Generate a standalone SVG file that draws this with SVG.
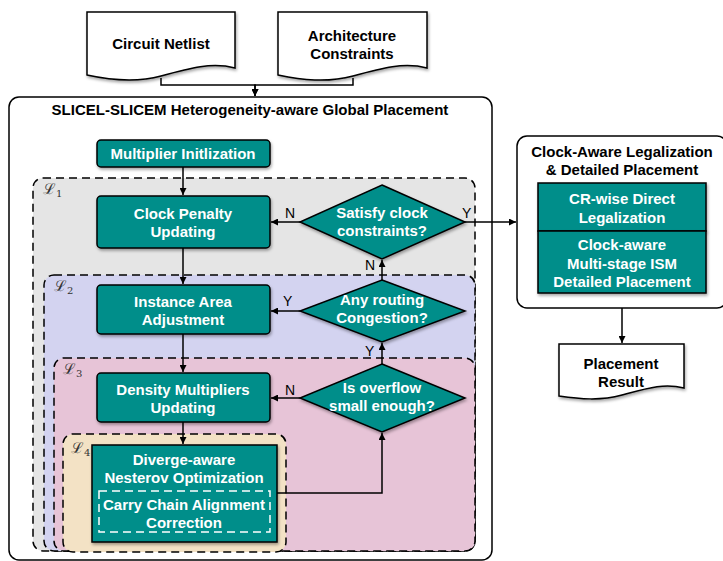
<svg xmlns="http://www.w3.org/2000/svg" width="723" height="561" viewBox="0 0 723 561">
<defs>
<marker id="arr" viewBox="0 0 10 10" refX="10" refY="5" markerWidth="7" markerHeight="7" markerUnits="userSpaceOnUse" orient="auto"><path d="M0,0 L10,5 L0,10 Z" fill="#000"/></marker>
<filter id="sh" x="-10%" y="-10%" width="130%" height="140%"><feDropShadow dx="1" dy="2" stdDeviation="1.5" flood-color="#000" flood-opacity="0.35"/></filter>
<style>
.doc{fill:#fff;stroke:#000;stroke-width:1.5}
.t{font-family:"Liberation Sans",Arial,sans-serif;font-weight:bold;font-size:15px;text-anchor:middle}
.w{fill:#fff}
.k{fill:#000}
.node{fill:#008E8A;stroke:#000;stroke-width:1.5;filter:url(#sh)}
.reg{stroke:#000;stroke-width:1.5;stroke-dasharray:8,5}
.lbl{font-family:"Liberation Sans",Arial,sans-serif;font-size:14px;fill:#000}
.L{font-family:"DejaVu Serif",serif;font-size:15px;fill:#333}
.c{fill:none;stroke:#000;stroke-width:1.5;marker-end:url(#arr)}
</style>
</defs>
<rect width="723" height="561" fill="#fff"/>

<g id="circuit-netlist">
<path class="doc" filter="url(#sh)" d="M87,12 H235 V68 C212,62 190,68 161,76 C135,83 110,80 87,75 Z"/>
<text class="t k" x="161" y="49">Circuit Netlist</text>
</g>
<g id="architecture-constraints">
<path class="doc" filter="url(#sh)" d="M278,12 H427 V68 C404,62 382,68 353,76 C327,83 302,80 278,75 Z"/>
<text class="t k" x="352" y="41">Architecture</text>
<text class="t k" x="352" y="59">Constraints</text>
</g>

<g id="global-placement">
<rect x="9" y="97" width="483" height="463" rx="10" fill="#fff" stroke="#000" stroke-width="1.5"/>
<text class="t k" x="250" y="115">SLICEL-SLICEM Heterogeneity-aware Global Placement</text>
</g>

<g id="loop-L1">
<rect class="reg" x="33" y="178" width="442" height="373" rx="10" fill="#E5E5E5"/>
<text class="L" x="43" y="194">ℒ<tspan font-size="10" dy="3">1</tspan></text>
</g>
<g id="loop-L2">
<rect class="reg" x="44" y="275" width="431" height="276" rx="10" fill="#D3D3F0"/>
<text class="L" x="54" y="291">ℒ<tspan font-size="10" dy="3">2</tspan></text>
</g>
<g id="loop-L3">
<rect class="reg" x="54" y="358" width="421" height="193" rx="10" fill="#E7C4D7"/>
<text class="L" x="63" y="374">ℒ<tspan font-size="10" dy="3">3</tspan></text>
</g>
<g id="loop-L4">
<rect class="reg" x="63" y="434" width="223" height="118" rx="10" fill="#F3E2C5"/>
<text class="L" x="71" y="453">ℒ<tspan font-size="10" dy="3">4</tspan></text>
</g>

<g id="multiplier-init">
<rect class="node" x="97" y="140" width="173" height="27" rx="4"/>
<text class="t w" x="183" y="159">Multiplier Initlization</text>
</g>
<g id="clock-penalty">
<rect class="node" x="97" y="196" width="173" height="52" rx="4"/>
<text class="t w" x="183" y="219">Clock Penalty</text>
<text class="t w" x="183" y="237">Updating</text>
</g>
<g id="instance-area">
<rect class="node" x="97" y="285" width="173" height="49" rx="4"/>
<text class="t w" x="183" y="307">Instance Area</text>
<text class="t w" x="183" y="325">Adjustment</text>
</g>
<g id="density-multipliers">
<rect class="node" x="97" y="373" width="173" height="49" rx="4"/>
<text class="t w" x="183" y="395">Density Multipliers</text>
<text class="t w" x="183" y="413">Updating</text>
</g>
<g id="nesterov">
<rect class="node" x="92" y="445" width="185" height="97"/>
<text class="t w" x="184" y="465">Diverge-aware</text>
<text class="t w" x="184" y="483">Nesterov Optimization</text>
<rect x="99" y="491" width="171" height="41" fill="none" stroke="#fff" stroke-width="1.5" stroke-dasharray="8,5"/>
<text class="t w" x="184" y="510">Carry Chain Alignment</text>
<text class="t w" x="184" y="528">Correction</text>
</g>

<g id="satisfy-clock">
<polygon class="node" points="382,185 465,222 382,259 300,222"/>
<text class="t w" x="382" y="218">Satisfy clock</text>
<text class="t w" x="382" y="236">constraints?</text>
</g>
<g id="routing-congestion">
<polygon class="node" points="382,280 465,311 382,342 300,311"/>
<text class="t w" x="382" y="305">Any routing</text>
<text class="t w" x="382" y="323">Congestion?</text>
</g>
<g id="overflow">
<polygon class="node" points="382,364 465,398 382,432 300,398"/>
<text class="t w" x="382" y="393">Is overflow</text>
<text class="t w" x="382" y="411">small enough?</text>
</g>

<g id="legalization">
<rect x="517" y="136" width="210" height="172" rx="10" fill="#fff" stroke="#000" stroke-width="1.5"/>
<text class="t k" x="622" y="157">Clock-Aware Legalization</text>
<text class="t k" x="622" y="175">&amp; Detailed Placement</text>
</g>
<g id="cr-wise">
<rect class="node" x="538" y="183" width="168" height="48"/>
<text class="t w" x="622" y="204">CR-wise Direct</text>
<text class="t w" x="622" y="223">Legalization</text>
</g>
<g id="ism">
<rect class="node" x="538" y="231" width="168" height="62"/>
<text class="t w" x="622" y="250">Clock-aware</text>
<text class="t w" x="622" y="269">Multi-stage ISM</text>
<text class="t w" x="622" y="287">Detailed Placement</text>
</g>
<g id="placement-result">
<path class="doc" filter="url(#sh)" d="M559,344 H684 V388 C664,383 648,388 622,395 C600,401 580,399 559,396 Z"/>
<text class="t k" x="621" y="369">Placement</text>
<text class="t k" x="621" y="387">Result</text>
</g>

<g id="connectors">
<path class="c" d="M161,78 V85 H255 V96"/>
<path class="c" d="M353,78 V85 H255 V96"/>
<path class="c" d="M183,167 V195"/>
<path class="c" d="M183,248 V284"/>
<path class="c" d="M183,334 V372"/>
<path class="c" d="M183,422 V444"/>
<path class="c" d="M300,222 H271"/>
<path class="c" d="M465,222 H516"/>
<path class="c" d="M382,280 V260"/>
<path class="c" d="M300,311 H271"/>
<path class="c" d="M382,364 V343"/>
<path class="c" d="M300,398 H271"/>
<path class="c" d="M277,493 H382 V433"/>
<path class="c" d="M622,308 V343"/>
<text class="lbl" x="285" y="218">N</text>
<text class="lbl" x="462" y="218">Y</text>
<text class="lbl" x="365" y="270">N</text>
<text class="lbl" x="283" y="306">Y</text>
<text class="lbl" x="365" y="356">Y</text>
<text class="lbl" x="285" y="395">N</text>
</g>
</svg>
